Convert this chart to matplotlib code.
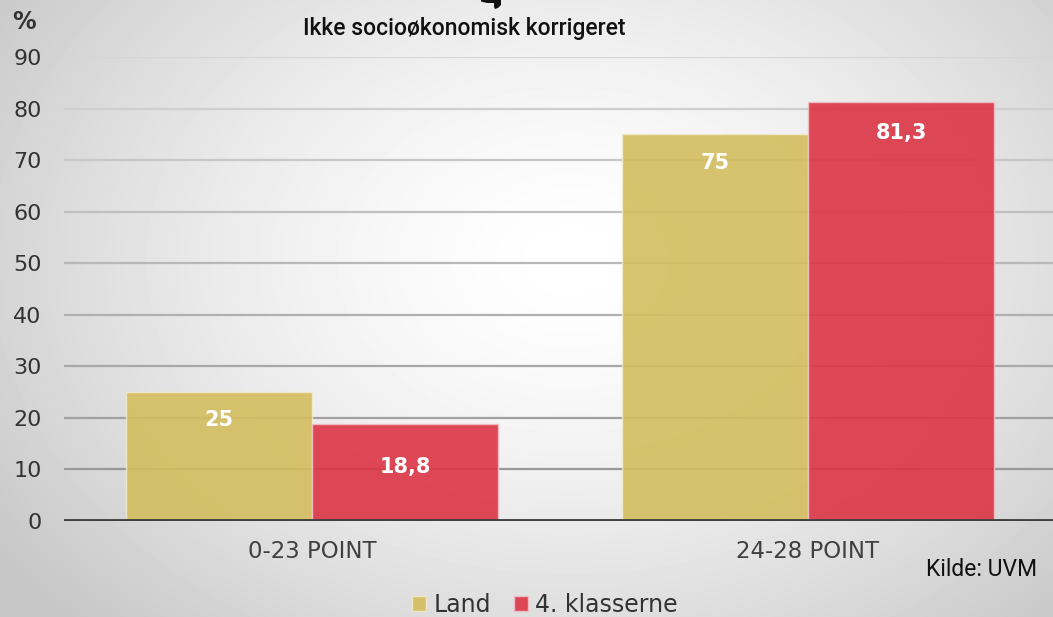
import matplotlib.pyplot as plt
import numpy as np

plt.rcParams["font.family"] = ["DejaVu Sans"]

categories = ["0-23 POINT", "24-28 POINT"]
land = [25, 75]
klasserne = [18.8, 81.3]
land_labels = ["25", "75"]
klasserne_labels = ["18,8", "81,3"]
yticks = [0, 10, 20, 30, 40, 50, 60, 70, 80, 90]

W, H = 1053, 617
fig = plt.figure(figsize=(W / 100, H / 100), dpi=100)

# radial grey-white background
bg = fig.add_axes([0, 0, 1, 1])
yy, xx = np.mgrid[0:H, 0:W]
r = np.sqrt(((xx - 570) / 650) ** 2 + ((yy - 260) / 480) ** 2)
shade = np.clip(1.0 - 0.2 * r ** 1.5, 0.78, 1.0)
bg.imshow(shade, cmap="gray", vmin=0, vmax=1, extent=[0, W, H, 0], aspect="auto")
bg.set_xlim(0, W)
bg.set_ylim(H, 0)
bg.axis("off")
# cut-off logo piece at the top
bg.fill([481, 501, 501, 498, 495, 494, 494, 487, 481],
        [0, 0, 5, 8, 9, 7, 3, 3, 1.5], color="#111111", lw=0)

# axes: x from 64 to ~1056 px, y: 0 at 521 px, 90 at 57 px
ax = fig.add_axes([64 / W, (H - 521) / H, (1056 - 64) / W, (521 - 57) / H])
ax.patch.set_alpha(0)
ax.set_xlim(-0.5, 1.5)
ax.set_ylim(0, 90)

x = np.arange(len(categories))
w = 0.375
ax.bar(x - w / 2, land, w, color="#d4bd5e", alpha=0.9, edgecolor="#f3ead0",
       linewidth=1, zorder=3, label="Land")
ax.bar(x + w / 2, klasserne, w, color="#dc3545", alpha=0.9, edgecolor="#f2c0c5",
       linewidth=1, zorder=3, label="4. klasserne")

land_pos = [v - 5.5 for v in land]
kl_pos = [klasserne[0] / 2 + 1, klasserne[1] - 6]
for xi, p, s in zip(x - w / 2, land_pos, land_labels):
    ax.text(xi, p, s, ha="center", va="center", color="white",
            fontsize=15, fontweight="bold", zorder=4)
for xi, p, s in zip(x + w / 2, kl_pos, klasserne_labels):
    ax.text(xi, p, s, ha="center", va="center", color="white",
            fontsize=15, fontweight="bold", zorder=4)

# gridlines fade out towards the top
for t in yticks[1:]:
    g = 0.60 + 0.24 * (t - 10) / 80
    ax.axhline(t, color=(g, g, g), linewidth=1.6, zorder=1)
ax.axhline(0, color="#404040", linewidth=3.5, zorder=5)

ax.set_yticks(yticks)
ax.set_yticklabels([str(t) for t in yticks], fontsize=16, color="#333333")
ax.tick_params(axis="y", length=0, pad=16)
ax.set_xticks(x)
ax.set_xticklabels(categories, fontsize=16.5, color="#404040")
ax.tick_params(axis="x", length=0, pad=14)
for sp in ax.spines.values():
    sp.set_visible(False)

fig.text(12 / W, 1 - 22 / H, "%", fontsize=17, color="#333333", va="center",
         ha="left", fontweight="bold")
fig.text(464 / W, 1 - 29 / H, "Ikke socioøkonomisk korrigeret", fontsize=16.5,
         color="#111111", ha="center", va="center", fontweight="medium",
         family=["Roboto", "DejaVu Sans"])
fig.text(1037 / W, 1 - 570 / H, "Kilde: UVM", fontsize=16.5, color="#111111",
         ha="right", va="center", family=["Roboto", "DejaVu Sans"])

fig.legend(loc="center", bbox_to_anchor=(545 / W, 1 - 605 / H), ncol=2,
           frameon=False, fontsize=17, handlelength=0.6, handleheight=0.6,
           handletextpad=0.3, columnspacing=1.0, labelcolor="#333333")

fig.savefig("out.png", dpi=100)
